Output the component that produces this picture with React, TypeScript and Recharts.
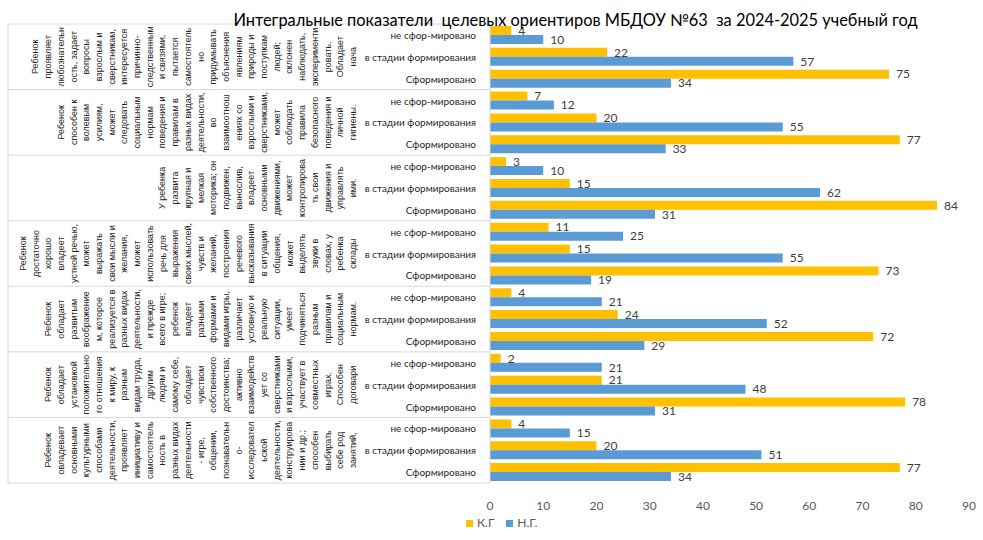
import React from 'react';
import { BarChart, Bar, XAxis, YAxis, LabelList, Legend } from 'recharts';

// group descriptions (already wrapped into lines, as in the source sheet)
const groupLines: string[][] = [
  ['Ребенок', 'проявляет', 'любознательн', 'ость, задает', 'вопросы', 'взрослым и', 'сверстникам,', 'интересуется', 'причинно-', 'следственным', 'и связями,', 'пытается', 'самостоятель', 'но', 'придумывать', 'объяснения', 'явлениям', 'природы и', 'поступкам', 'людей;', 'склонен', 'наблюдать,', 'эксперименти', 'ровать.', 'Обладает', 'нача'],
  ['Ребенок', 'способен к', 'волевым', 'усилиям,', 'может', 'следовать', 'социальным', 'нормам', 'поведения и', 'правилам в', 'разных видах', 'деятельности,', 'во', 'взаимоотнош', 'ениях со', 'взрослыми и', 'сверстниками,', 'может', 'соблюдать', 'правила', 'безопасного', 'поведения и', 'личной', 'гигиены.'],
  ['У ребенка', 'развита', 'крупная и', 'мелкая', 'моторика; он', 'подвижен,', 'вынослив,', 'владеет', 'основными', 'движениями,', 'может', 'контролирова', 'ть свои', 'движения и', 'управлять', 'ими.'],
  ['Ребенок', 'достаточно', 'хорошо', 'владеет', 'устной речью,', 'может', 'выражать', 'свои мысли и', 'желания,', 'может', 'использовать', 'речь для', 'выражения', 'своих мыслей,', 'чувств и', 'желаний,', 'построения', 'речевого', 'высказывания', 'в ситуации', 'общения,', 'может', 'выделять', 'звуки в', 'словах, у', 'ребенка', 'склады'],
  ['Ребенок', 'обладает', 'развитым', 'воображение', 'м, которое', 'реализуется в', 'разных видах', 'деятельности,', 'и прежде', 'всего в игре;', 'ребенок', 'владеет', 'разными', 'формами и', 'видами игры,', 'различает', 'условную и', 'реальную', 'ситуации,', 'умеет', 'подчиняться', 'разным', 'правилам и', 'социальным', 'нормам.'],
  ['Ребенок', 'обладает', 'установкой', 'положительно', 'го отношения', 'к миру, к', 'разным', 'видам труда,', 'другим', 'людям и', 'самому себе,', 'обладает', 'чувством', 'собственного', 'достоинства;', 'активно', 'взаимодейств', 'ует со', 'сверстниками', 'и взрослыми,', 'участвует в', 'совместных', 'играх.', 'Способен', 'договари'],
  ['Ребенок', 'овладевает', 'основными', 'культурными', 'способами', 'деятельности,', 'проявляет', 'инициативу и', 'самостоятель', 'ность в', 'разных видах', 'деятельности', '- игре,', 'общении,', 'познавательн', 'о-', 'исследовател', 'ьской', 'деятельности,', 'конструирова', 'нии и др.;', 'способен', 'выбирать', 'себе род', 'занятий,'],
];

const subLabels = ['не сфор-мировано', 'в стадии формирования', 'Сформировано'];

// К.Г (yellow) and Н.Г. (blue), 3 values per group, top to bottom
const kgValues = [4, 22, 75, 7, 20, 77, 3, 15, 84, 11, 15, 73, 4, 24, 72, 2, 21, 78, 4, 20, 77];
const ngValues = [10, 57, 34, 12, 55, 33, 10, 62, 31, 25, 55, 19, 21, 52, 29, 21, 48, 31, 15, 51, 34];

const xTicks = [0, 10, 20, 30, 40, 50, 60, 70, 80, 90];

const data = kgValues.map((kg, i) => ({
  id: 'c' + i,
  sub: subLabels[i % 3],
  kg,
  ng: ngValues[i],
}));

const W = 983;
const H = 540;
const margin = { top: 24, right: 14, bottom: 10, left: 0 };
const yAxisWidth = 490;
const colRight = 353;
const colStep = 12.7;

const GroupTick = (props: any) => {
  const { x, y, index, height } = props;
  const band = (height || 459) / data.length;
  const pos = index % 3;
  const plotLeft = margin.left + yAxisWidth;
  const lines = groupLines[Math.floor(index / 3)];
  return (
    <g>
      <text x={x} y={y} textAnchor="end" dominantBaseline="central" fontSize={10} fill="#262626" fontFamily="Lato, sans-serif">
        {data[index].sub}
      </text>
      {pos === 0 && <line x1={8} x2={plotLeft} y1={y - band / 2} y2={y - band / 2} stroke="#d9d9d9" />}
      {index === data.length - 1 && <line x1={8} x2={plotLeft} y1={y + band / 2} y2={y + band / 2} stroke="#d9d9d9" />}
      {pos === 1 && (
        <g>
          <line x1={8} x2={8} y1={y - band * 1.5} y2={y + band * 1.5} stroke="#d9d9d9" />
          {lines.map((t, j) => {
            const cx = colRight - (lines.length - 1 - j) * colStep;
            return (
              <text key={j} x={cx} y={y} transform={`rotate(-90 ${cx} ${y})`} textAnchor="middle" dominantBaseline="central"
                fontSize={9} fill="#262626" fontFamily="'Liberation Sans', Arial, sans-serif">
                {t}
              </text>
            );
          })}
        </g>
      )}
    </g>
  );
};

const renderLegend = () => (
  <div style={{ display: 'flex', gap: 12, fontFamily: 'Lato, sans-serif', fontSize: 12, lineHeight: '16px', color: '#595959' }}>
    <span><span style={{ display: 'inline-block', width: 7, height: 7, background: '#FFC000', marginRight: 4 }} />К.Г</span>
    <span><span style={{ display: 'inline-block', width: 7, height: 7, background: '#5B9BD5', marginRight: 4 }} />Н.Г.</span>
  </div>
);

export default function App() {
  return (
    <div style={{ position: 'relative', width: W, height: H, background: '#fff' }}>
      <style>{'body{margin:0}'}</style>
      <div style={{ position: 'absolute', left: 0, top: 10, width: W, textAlign: 'center', paddingLeft: 168, boxSizing: 'border-box', whiteSpace: 'pre', fontFamily: 'Lato, sans-serif', fontSize: 16.4, color: '#000', zIndex: 1 }}>
        Интегральные показатели  целевых ориентиров МБДОУ №63  за 2024-2025 учебный год
      </div>
      <BarChart width={W} height={H} data={data} layout="vertical" margin={margin} barCategoryGap="9%" barGap={0}>
        <XAxis type="number" domain={[0, 90]} ticks={xTicks} axisLine={false} tickLine={false} tickMargin={12} height={31}
          tick={{ fontSize: 12, fill: '#595959', fontFamily: 'Lato, sans-serif' }} />
        <YAxis type="category" dataKey="id" width={yAxisWidth} interval={0} tickLine={false} tickMargin={8}
          axisLine={{ stroke: '#d9d9d9' }} tick={<GroupTick />} />
        <Legend content={renderLegend} wrapperStyle={{ left: 466, top: 515, width: 'auto', height: 16 }} />
        <Bar dataKey="kg" name="К.Г" fill="#FFC000" isAnimationActive={false}>
          <LabelList dataKey="kg" position="right" offset={7} fontSize={12} fill="#404040" fontFamily="Lato, sans-serif" />
        </Bar>
        <Bar dataKey="ng" name="Н.Г." fill="#5B9BD5" isAnimationActive={false}>
          <LabelList dataKey="ng" position="right" offset={7} fontSize={12} fill="#404040" fontFamily="Lato, sans-serif" />
        </Bar>
      </BarChart>
    </div>
  );
}
